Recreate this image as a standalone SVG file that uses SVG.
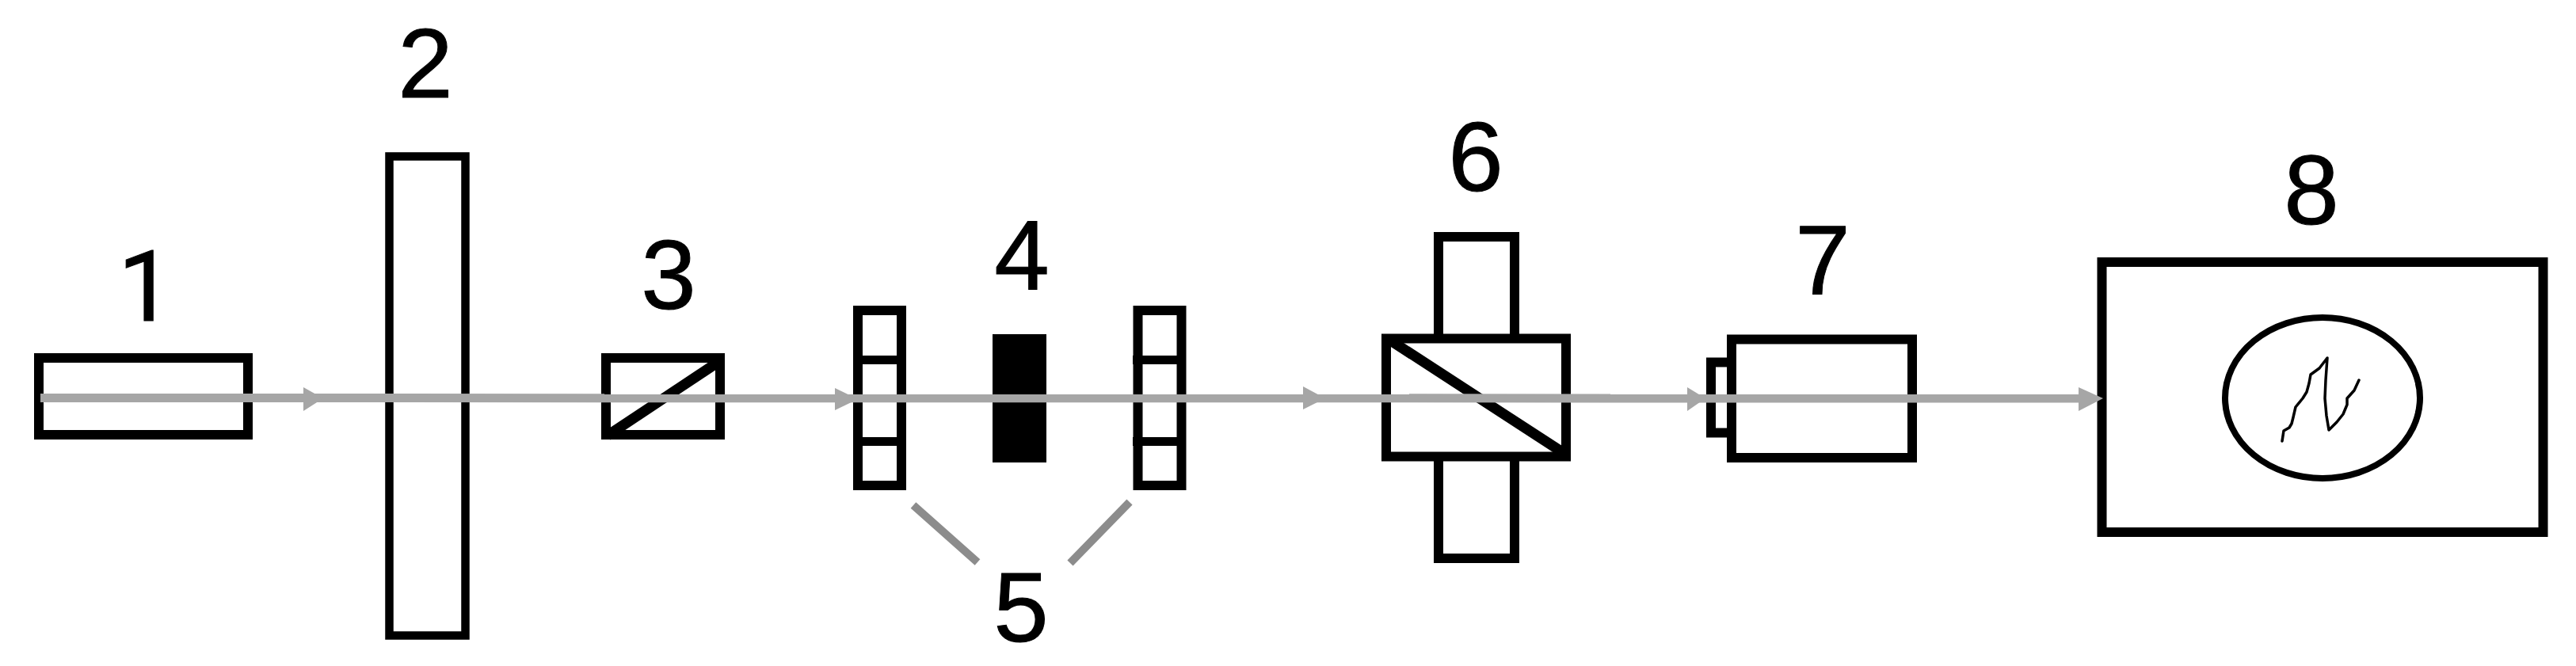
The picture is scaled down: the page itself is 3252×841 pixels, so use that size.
<svg xmlns="http://www.w3.org/2000/svg" width="3252" height="841" viewBox="0 0 3252 841">
<style>
.o{fill:#fff;stroke:#000;stroke-width:12}
.n{fill:none;stroke:#000;stroke-width:13}
.t{font-family:"Liberation Sans",Arial,sans-serif;font-size:125px;fill:#000;stroke:#000;stroke-width:1;text-anchor:middle}
.one{font-family:Roboto,"Liberation Sans",sans-serif}
.b{fill:none;stroke:#a6a6a6;stroke-width:11}
.h{fill:#a6a6a6}
.p{fill:none;stroke:#8c8c8c;stroke-width:10}
</style>
<rect width="3252" height="841" fill="#fff"/>
<g id="node-1"><rect class="o" x="49" y="452" width="264" height="97"/><text class="t one" x="184" y="405">1</text></g>
<g id="node-2"><rect class="o" x="491.500" y="197.500" width="96" height="605" style="stroke-width:10.500"/><text class="t" x="537" y="123">2</text></g>
<g id="node-3"><rect class="o" x="765" y="452" width="144" height="97"/><line class="n" x1="767" y1="550" x2="910" y2="455"/><text class="t" x="844" y="390">3</text></g>
<g id="node-4"><rect x="1253" y="422" width="68" height="162" fill="#000"/><text class="t" x="1290" y="365">4</text></g>
<g id="node-5">
<g id="node-5a"><rect class="o" x="1083" y="392" width="55" height="221"/><rect x="1077" y="449" width="67" height="11"/><rect x="1077" y="552" width="67" height="11"/></g>
<g id="node-5b"><rect class="o" x="1436.500" y="392" width="55" height="221"/><rect x="1430" y="449" width="67" height="11"/><rect x="1430" y="552" width="67" height="11"/></g>
<text class="t" x="1289" y="810">5</text>
</g>
<g id="node-6">
<rect class="o" x="1816" y="299" width="96" height="130"/>
<rect class="o" x="1816" y="576" width="96" height="129"/>
<rect class="o" x="1750" y="427.500" width="227" height="149"/>
<line class="n" x1="1754" y1="429" x2="1974" y2="572"/>
<text class="t" x="1863" y="241">6</text>
</g>
<g id="node-7">
<rect class="o" x="2160" y="457.500" width="30" height="89"/>
<rect class="o" x="2186" y="428.500" width="228" height="149.500"/>
<text class="t" x="2301" y="371">7</text>
</g>
<g id="node-8">
<rect class="o" x="2653.500" y="331" width="557" height="341"/>
<ellipse cx="2932" cy="502.500" rx="123" ry="101.500" fill="none" stroke="#000" stroke-width="8"/>
<path d="M2881 557L2883 544L2890 540L2893 535L2895 527L2898 514L2907 503L2912 495L2915 484L2917 473L2928 465L2938 452L2936 480L2935 503L2937 525L2940 543L2950 533L2958 523L2963 511L2963 503L2972 493L2978 480" fill="none" stroke="#000" stroke-width="3.500" stroke-linejoin="round" stroke-linecap="round"/>
<text class="t" x="2918" y="283">8</text>
</g>
<g id="connectors">
<line class="b" x1="51" y1="502.500" x2="2630" y2="503"/>
<polygon class="h" points="383,489 408,503 383,519"/>
<polygon class="h" points="1054,490 1083,504 1054,518"/>
<polygon class="h" points="1645,488 1673,503 1645,517"/>
<polygon class="h" points="2130,489 2153,503 2130,519"/>
<polygon class="h" points="2624,489 2655,503 2624,519"/>
<line class="p" x1="1153" y1="638" x2="1234" y2="710"/>
<line class="p" x1="1426" y1="634" x2="1351" y2="711"/>
</g>
</svg>
